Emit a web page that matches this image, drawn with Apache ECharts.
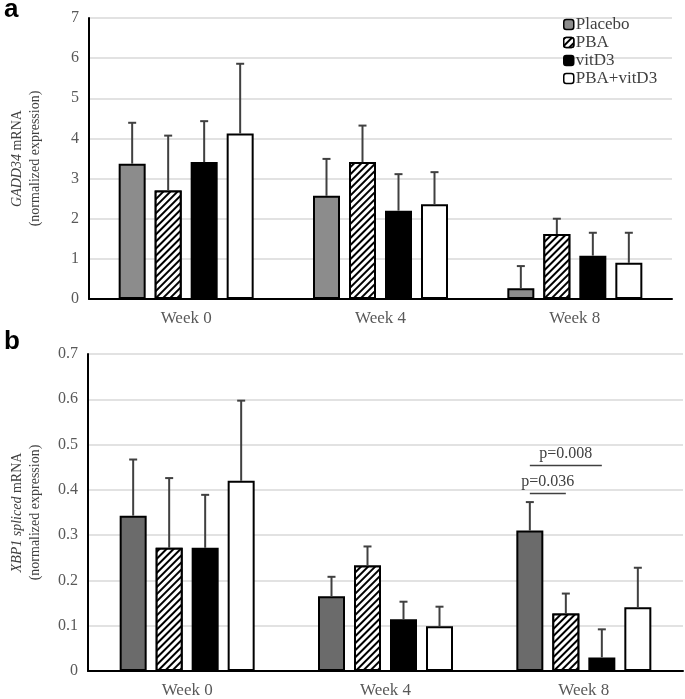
<!DOCTYPE html>
<html>
<head>
<meta charset="utf-8">
<script src="https://cdn.jsdelivr.net/npm/echarts@6/dist/echarts.min.js"></script>
<style>
html,body{margin:0;padding:0;background:#fff;}
#chart{width:685px;height:699px;}
</style>
</head>
<body>
<div id="chart"></div>
<script>
// ---- data ----
var categories = ['Week 0', 'Week 4', 'Week 8'];
var groupNames = ['Placebo', 'PBA', 'vitD3', 'PBA+vitD3'];

// panel a: GADD34 mRNA (mean, SD)
var gaddPlacebo = [3.37, 2.57, 0.27];
var gaddPlaceboSD = [1.02, 0.92, 0.55];
var gaddPBA = [2.70, 3.41, 1.62];
var gaddPBASD = [1.37, 0.91, 0.38];
var gaddVitD3 = [3.41, 2.20, 1.08];
var gaddVitD3SD = [1.02, 0.91, 0.57];
var gaddCombo = [4.12, 2.36, 0.90];
var gaddComboSD = [1.74, 0.80, 0.75];

// panel b: XBP1 spliced mRNA (mean, SD)
var xbpPlacebo = [0.343, 0.165, 0.310];
var xbpPlaceboSD = [0.124, 0.043, 0.063];
var xbpPBA = [0.272, 0.233, 0.127];
var xbpPBASD = [0.154, 0.042, 0.044];
var xbpVitD3 = [0.272, 0.114, 0.030];
var xbpVitD3SD = [0.117, 0.039, 0.062];
var xbpCombo = [0.420, 0.099, 0.141];
var xbpComboSD = [0.177, 0.043, 0.087];

// significance annotations (panel b, Week 8)
var sigLabels = ['p=0.036', 'p=0.008'];
var sigCategory = [2, 2];
var sigFrom = [0, 0];
var sigTo = [1, 2];
var sigLevel = [0.392, 0.454];

// ---- styles ----
var FONT = '"Liberation Serif", "Times New Roman", serif';
var BAR_W = 27;
var BAR_GAP = 9;
var hatch = {
  symbol: 'rect', symbolSize: 1, color: '#000', backgroundColor: '#fff',
  dashArrayX: [1, 0], dashArrayY: [2, 3], rotation: -Math.PI / 4
};

var chart = echarts.init(document.getElementById('chart'));

function barSeries(name, data, gi, color, decal) {
  var st = { color: color, borderColor: '#000', borderWidth: 2 };
  if (decal) st.decal = decal;
  return {
    type: 'bar', name: name, xAxisIndex: gi, yAxisIndex: gi,
    data: data, barWidth: BAR_W, barGap: (BAR_GAP / BAR_W * 100) + '%',
    itemStyle: st, emphasis: { disabled: true }, animation: false
  };
}

function errSeries(gi, means, sds) {
  var data = [];
  for (var s = 0; s < means.length; s++) {
    for (var c = 0; c < means[s].length; c++) {
      data.push([c, s, means[s][c], means[s][c] + sds[s][c]]);
    }
  }
  return {
    type: 'custom', xAxisIndex: gi, yAxisIndex: gi, z: 5, animation: false,
    silent: true,
    encode: { x: 0, y: 3 },
    data: data,
    renderItem: function (params, api) {
      var c = api.value(0), s = api.value(1);
      var off = (s - (groupNames.length - 1) / 2) * (BAR_W + BAR_GAP);
      var p0 = api.coord([c, api.value(2)]);
      var p1 = api.coord([c, api.value(3)]);
      var x = p0[0] + off;
      var style = { stroke: '#404040', lineWidth: 2 };
      return {
        type: 'group',
        children: [
          { type: 'line', shape: { x1: x, y1: p0[1], x2: x, y2: p1[1] }, style: style },
          { type: 'line', shape: { x1: x - 4, y1: p1[1], x2: x + 4, y2: p1[1] }, style: style }
        ]
      };
    }
  };
}

function xAx(gi) {
  return {
    type: 'category', gridIndex: gi, data: categories,
    axisLine: { lineStyle: { color: '#000', width: 2 } },
    axisTick: { show: false },
    axisLabel: { margin: 11, fontSize: 17, color: '#595959', fontFamily: FONT }
  };
}
function yAx(gi, max, interval, nameRich, gap) {
  return {
    type: 'value', gridIndex: gi, min: 0, max: max, interval: interval,
    axisLine: { show: true, lineStyle: { color: '#000', width: 2 } },
    axisTick: { show: false },
    splitLine: { lineStyle: { color: '#d9d9d9', width: 1.5 } },
    axisLabel: { margin: 10, fontSize: 16, color: '#595959', fontFamily: FONT },
    name: nameRich, nameLocation: 'middle', nameRotate: 90, nameGap: gap,
    nameTextStyle: {
      fontFamily: FONT, fontSize: 14, color: '#404040', lineHeight: 18,
      rich: { i: { fontStyle: 'italic', fontFamily: FONT, fontSize: 14, color: '#404040', lineHeight: 18 } }
    }
  };
}

var option = {
  backgroundColor: '#fff',
  animation: false,
  grid: [
    { left: 82, top: 18, width: 590, height: 281 },
    { left: 81, top: 354, width: 602, height: 318 }
  ],
  legend: {
    data: groupNames, orient: 'vertical', left: 563, top: 16, padding: 0,
    itemWidth: 10, itemHeight: 10, itemGap: 1, itemStyle: { borderWidth: 1.5 },
    textStyle: { fontFamily: FONT, fontSize: 17, color: '#404040', padding: [0, 0, 0, -3] },
    selectedMode: false
  },
  xAxis: [xAx(0), xAx(1)],
  yAxis: [
    yAx(0, 7, 1, '{i|GADD34} mRNA\n(normalized expression)', 45),
    yAx(1, 0.7, 0.1, '{i|XBP1 spliced} mRNA\n(normalized expression)', 44)
  ],
  series: [
    barSeries(groupNames[0], gaddPlacebo, 0, '#8c8c8c'),
    barSeries(groupNames[1], gaddPBA, 0, '#fff', hatch),
    barSeries(groupNames[2], gaddVitD3, 0, '#000'),
    barSeries(groupNames[3], gaddCombo, 0, '#fff'),
    errSeries(0, [gaddPlacebo, gaddPBA, gaddVitD3, gaddCombo], [gaddPlaceboSD, gaddPBASD, gaddVitD3SD, gaddComboSD]),
    barSeries(groupNames[0], xbpPlacebo, 1, '#6b6b6b'),
    barSeries(groupNames[1], xbpPBA, 1, '#fff', hatch),
    barSeries(groupNames[2], xbpVitD3, 1, '#000'),
    barSeries(groupNames[3], xbpCombo, 1, '#fff'),
    errSeries(1, [xbpPlacebo, xbpPBA, xbpVitD3, xbpCombo], [xbpPlaceboSD, xbpPBASD, xbpVitD3SD, xbpComboSD])
  ]
};
chart.setOption(option);

// panel letters + significance brackets, positioned through the axes
var graphics = [
  { type: 'text', left: 4, top: -3, style: { text: 'a', font: 'bold 26px "Liberation Sans", Arial, sans-serif', fill: '#000' } },
  { type: 'text', left: 4, top: 329, style: { text: 'b', font: 'bold 26px "Liberation Sans", Arial, sans-serif', fill: '#000' } }
];
for (var k = 0; k < sigLabels.length; k++) {
  var off0 = (sigFrom[k] - (groupNames.length - 1) / 2) * (BAR_W + BAR_GAP);
  var off1 = (sigTo[k] - (groupNames.length - 1) / 2) * (BAR_W + BAR_GAP);
  var p = chart.convertToPixel({ xAxisIndex: 1, yAxisIndex: 1 }, [sigCategory[k], sigLevel[k]]);
  var x0 = p[0] + off0, x1 = p[0] + off1;
  graphics.push({ type: 'line', shape: { x1: x0, y1: p[1], x2: x1, y2: p[1] }, style: { stroke: '#404040', lineWidth: 1.5 }, silent: true });
  graphics.push({ type: 'text', x: (x0 + x1) / 2, y: p[1] - 4, style: { text: sigLabels[k], font: '16px ' + FONT, fill: '#404040', textAlign: 'center', textVerticalAlign: 'bottom' }, silent: true });
}
chart.setOption({ graphic: graphics });
</script>
</body>
</html>
